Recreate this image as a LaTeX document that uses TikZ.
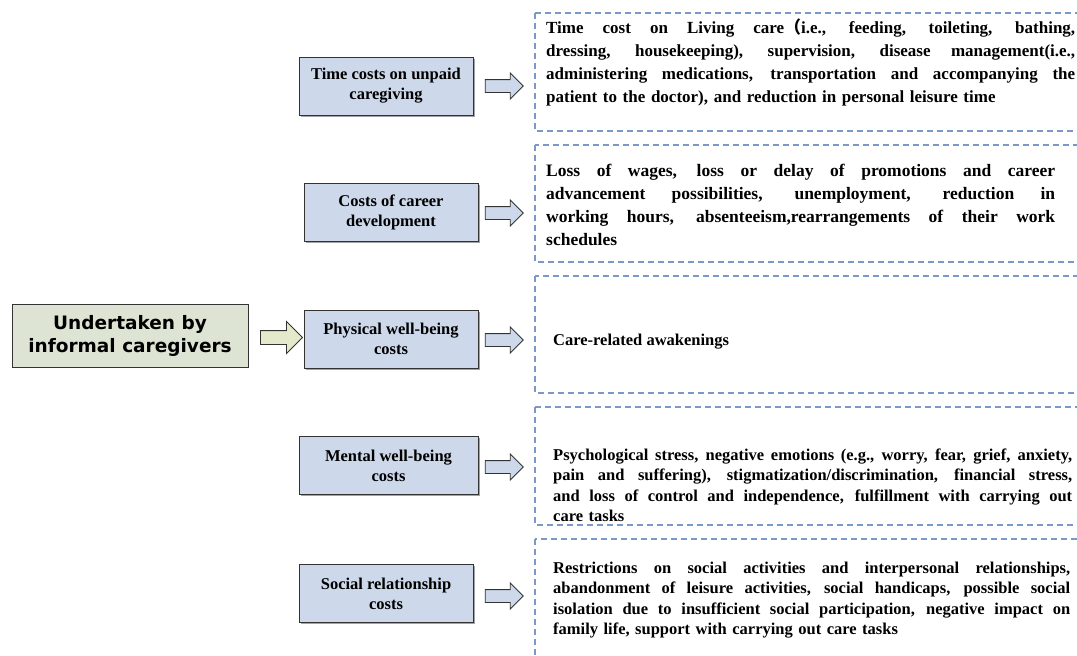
\documentclass[tikz,border=0pt]{standalone}
\usepackage{fontspec}
\setmainfont{Liberation Serif}
\newfontfamily\headfont{DejaVu Sans}
\newfontfamily\cjk{Noto Sans CJK SC}
\usetikzlibrary{shapes.arrows,shadows,positioning}

\definecolor{costfill}{RGB}{205,217,234}
\definecolor{startfill}{RGB}{221,228,211}
\definecolor{startarrow}{RGB}{228,233,204}
\definecolor{dashblue}{RGB}{122,152,200}

% one line stretched to the full text width
\newcommand{\spread}[1]{\makebox[\hsize][s]{\spaceskip=0pt\xspaceskip=0pt\relax #1}}

\tikzset{
  costbox/.style={draw=black!80, line width=0.9pt, fill=costfill, align=center,
    minimum height=58pt, inner sep=0pt,
    font=\bfseries\fontsize{16.5}{20}\selectfont,
    drop shadow={shadow xshift=1.5pt, shadow yshift=-1.5pt, fill=black!60, opacity=0.6}},
  startbox/.style={draw=black!80, line width=0.9pt, fill=startfill, align=center,
    minimum width=236pt, minimum height=63pt, inner sep=0pt,
    font=\headfont\bfseries\fontsize{18.5}{23}\selectfont},
  flowarrow/.style={single arrow, draw=black!80, line width=0.9pt, fill=costfill,
    minimum height=38pt, minimum width=25pt, inner xsep=0pt, inner ysep=6pt,
    single arrow head extend=6.5pt},
  detailbox/.style={draw=dashblue, line width=1.2pt, dash pattern=on 6pt off 4pt},
  detailtext/.style={anchor=base west, inner sep=0pt, align=left,
    font=\bfseries\fontsize{16.5}{20.5}\selectfont}
}

\begin{document}
\begin{tikzpicture}[x=1pt, y=-1pt]
\useasboundingbox (0,0) rectangle (1077,656);
\clip (0,0) rectangle (1077,656);

% left
\node[startbox] (informal) at (130,335.5) {Undertaken by\\informal caregivers};
\node[flowarrow, fill=startarrow, minimum height=42pt, minimum width=31pt,
  inner ysep=6.5pt, single arrow head extend=9pt] (toCosts) at (278,337.5) {};

% cost types
\node[costbox, minimum width=174pt] (time) at (386,86) {Time costs on unpaid\\caregiving};
\node[costbox, minimum width=174pt] (career) at (391,212.5) {Costs of career\\development};
\node[costbox, minimum width=174pt] (physical) at (391,339) {Physical well-being\\costs};
\node[costbox, minimum width=179pt] (mental) at (388.5,465.5) {Mental well-being\\costs};
\node[costbox, minimum width=174pt] (social) at (386,593.5) {Social relationship\\costs};

\node[flowarrow] (toTime) at (501,86) {};
\node[flowarrow] (toCareer) at (501,213) {};
\node[flowarrow] (toPhysical) at (501,340) {};
\node[flowarrow] (toMental) at (501,467) {};
\node[flowarrow] (toSocial) at (501,596) {};

% details
\draw[detailbox] (535,13) rectangle (1095,131);
\draw[detailbox] (535,145) rectangle (1095,262);
\draw[detailbox] (535,276) rectangle (1095,393);
\draw[detailbox] (535,407) rectangle (1095,525);
\draw[detailbox] (535,539) rectangle (1095,680);

\node[detailtext, text width=529pt, font=\bfseries\fontsize{17}{23}\selectfont]
  (timeText) at (546,33) {%
  \spread{Time cost on Living care{\cjk（}i.e., feeding, toileting, bathing,}\\
  \spread{dressing, housekeeping), supervision, disease management(i.e.,}\\
  \spread{administering medications, transportation and accompanying the}\\
  patient to the doctor), and reduction in personal leisure time};
\node[detailtext, text width=509pt, font=\bfseries\fontsize{17.5}{23}\selectfont]
  (careerText) at (546,176) {%
  \spread{Loss of wages, loss or delay of promotions and career}\\
  \spread{advancement possibilities, unemployment, reduction in}\\
  \spread{working hours, absenteeism,rearrangements of their work}\\
  schedules};
\node[detailtext] (physicalText) at (553,345) {Care-related awakenings};
\node[detailtext, text width=519pt] (mentalText) at (553,460) {%
  \spread{Psychological stress, negative emotions (e.g., worry, fear, grief, anxiety,}\\
  \spread{pain and suffering), stigmatization/discrimination, financial stress,}\\
  \spread{and loss of control and independence, fulfillment with carrying out}\\
  care tasks};
\node[detailtext, text width=517pt] (socialText) at (553,573) {%
  \spread{Restrictions on social activities and interpersonal relationships,}\\
  \spread{abandonment of leisure activities, social handicaps, possible social}\\
  \spread{isolation due to insufficient social participation, negative impact on}\\
  family life, support with carrying out care tasks};
\end{tikzpicture}
\end{document}
